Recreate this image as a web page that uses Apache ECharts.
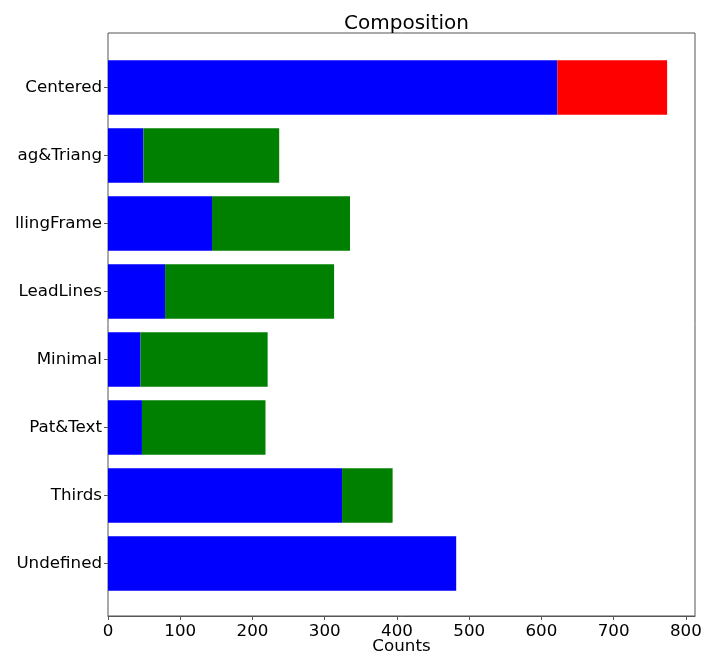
<!DOCTYPE html>
<html>
<head>
<meta charset="utf-8">
<script src="https://cdn.jsdelivr.net/npm/echarts@6/dist/echarts.min.js"></script>
<style>html,body{margin:0;padding:0;background:#fff;}#c{width:705px;height:656px;}</style>
</head>
<body>
<div id="c"></div>
<script>
const categories = ["Centered", "ag&Triang", "llingFrame", "LeadLines", "Minimal", "Pat&Text", "Thirds", "Undefined"];
const blueValues = [622, 49, 144, 79, 45, 47, 324, 482];
const greenValues = [0, 188, 191, 234, 176, 171, 70, 0];
const redValues = [152, 0, 0, 0, 0, 0, 0, 0];
const xTicks = [0, 100, 200, 300, 400, 500, 600, 700, 800];

const FONT = "DejaVu Sans";
const XMAX = 812.6;
const chart = echarts.init(document.getElementById('c'), null, {renderer: 'canvas'});
const toData = arr => arr.map(v => v === 0 ? '-' : v);
chart.setOption({
  animation: false,
  backgroundColor: '#fff',
  title: {
    text: 'Composition', left: 401.5, top: 9, textAlign: 'center',
    textStyle: {fontFamily: FONT, fontSize: 20, fontWeight: 'normal', color: '#000'}
  },
  graphic: [
    {type: 'text', x: 401.5, y: 638,
     style: {text: 'Counts', align: 'center', verticalAlign: 'top', fontFamily: FONT, fontSize: 16.7, fill: '#000'}}
  ],
  grid: [
    {left: 108, right: 10, top: 33, bottom: 40, show: true, borderColor: '#555', borderWidth: 1, backgroundColor: 'transparent', outerBoundsMode: 'none', containLabel: false},
    {left: 108, right: 10, top: 53.5, height: 544, outerBoundsMode: 'none', containLabel: false}
  ],
  xAxis: [
    {gridIndex: 0, type: 'value', min: 0, max: XMAX, interval: 100,
     axisLine: {show: true, lineStyle: {color: '#555'}},
     axisTick: {show: true, length: 4, lineStyle: {color: '#555'}},
     splitLine: {show: false},
     axisLabel: {fontFamily: FONT, fontSize: 16.7, color: '#000', margin: 7,
       showMaxLabel: false,
       formatter: v => xTicks.includes(v) ? String(v) : ''}},
    {gridIndex: 1, type: 'value', min: 0, max: XMAX, show: false}
  ],
  yAxis: [
    {gridIndex: 0, type: 'value', show: false},
    {gridIndex: 1, type: 'category', data: categories, inverse: true,
     axisLine: {show: false},
     axisTick: {show: true, alignWithLabel: true, length: 4, lineStyle: {color: '#555'}},
     axisLabel: {fontFamily: FONT, fontSize: 16.7, color: '#000', margin: 6}}
  ],
  series: [
    {type: 'bar', xAxisIndex: 1, yAxisIndex: 1, stack: 's', data: toData(blueValues), barWidth: '80%', itemStyle: {color: '#0000ff'}},
    {type: 'bar', xAxisIndex: 1, yAxisIndex: 1, stack: 's', data: toData(greenValues), barWidth: '80%', itemStyle: {color: '#008000'}},
    {type: 'bar', xAxisIndex: 1, yAxisIndex: 1, stack: 's', data: toData(redValues), barWidth: '80%', itemStyle: {color: '#ff0000'}}
  ]
});
</script>
</body>
</html>
